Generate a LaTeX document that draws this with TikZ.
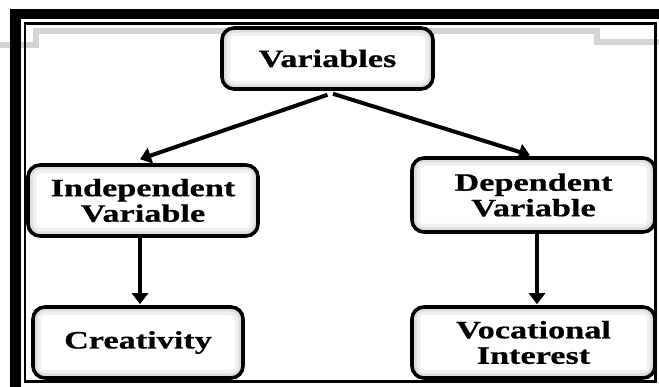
\documentclass[tikz,border=0pt]{standalone}
\usepackage{fontspec}
\setmainfont{Liberation Serif}[FakeStretch=1.37,FakeBold=0.6]
\usepackage{tikz}
\usetikzlibrary{arrows.meta,positioning}
\definecolor{band}{HTML}{D4D4D4}

\begin{document}
\begin{tikzpicture}[
  x=1pt,y=-1pt,
  font=\fontsize{25}{25.5}\selectfont\bfseries,
  every node/.style={align=center},
  box/.style={rounded corners=12pt,draw=black,line width=3.6pt,fill=white,inner sep=0pt,
    path picture={
      \draw[black!6,line width=16pt,rounded corners=12pt]
        (path picture bounding box.south west) rectangle (path picture bounding box.north east);
      \draw[black!13,line width=9pt,rounded corners=12pt]
        (path picture bounding box.south west) rectangle (path picture bounding box.north east);}},
  link/.style={line width=4pt,-{Triangle[length=11pt,width=16pt]}}
]
\useasboundingbox (0,0) rectangle (659,387);
\clip (0,0) rectangle (659,387);

% Page band and frame
\draw[band,line width=6pt] (0,45) -- (36,45) -- (36,31.5) -- (597,31.5) -- (597,42.5) -- (659,42.5);
\draw[line width=10.5pt] (15.5,14) rectangle (700,420);
\draw[line width=2.5pt] (25,23.5) rectangle (655.5,381.5);

% Boxes
\node[box,minimum width=211pt,minimum height=61pt] (var) at (327.5,58.5) {Variables};
\node[box,minimum width=230pt,minimum height=71pt] (indep) at (143,200.5) {Independent\\Variable};
\node[box,minimum width=243pt,minimum height=74pt] (dep) at (533.5,195) {Dependent\\Variable};
\node[box,minimum width=210pt,minimum height=71pt] (creat) at (138,342.5) {Creativity};
\node[box,minimum width=243pt,minimum height=71pt] (voc) at (533.5,342.5) {Vocational\\Interest};

% Arrows
\draw[link] ([yshift=-4pt]var.south) -- ([xshift=-3pt,yshift=4pt]indep.north);
\draw[link] ([xshift=5.5pt,yshift=-3pt]var.south) -- ([xshift=-3.5pt,yshift=1pt]dep.north);
\draw[link] ([xshift=-3pt]indep.south) -- ([xshift=-3pt,yshift=1pt]indep.south |- creat.north);
\draw[link] ([xshift=3.5pt]dep.south) -- ([xshift=3.5pt,yshift=1pt]dep.south |- voc.north);
\end{tikzpicture}
\end{document}
